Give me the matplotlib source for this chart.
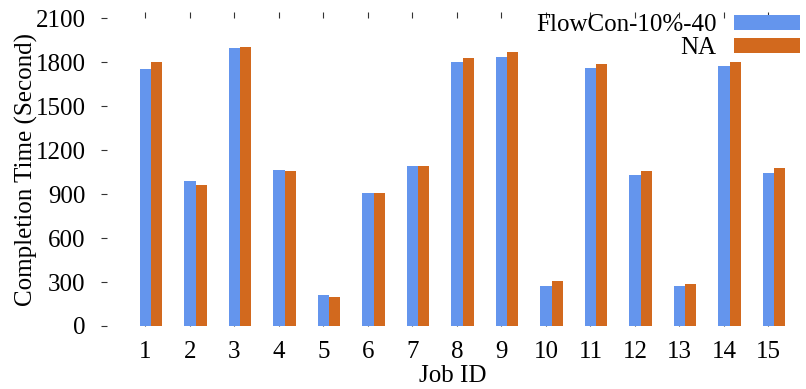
import numpy as np
import matplotlib
matplotlib.use("Agg")
import matplotlib.pyplot as plt

jobs = list(range(1, 16))
flowcon = [1756, 990, 1899, 1065, 210, 910, 1090, 1804, 1838, 274, 1762, 1028, 274, 1774, 1044]
na = [1800, 962, 1906, 1058, 198, 910, 1094, 1831, 1867, 310, 1790, 1060, 285, 1801, 1081]
series_names = ["FlowCon-10%-40", "NA"]
yticks = [0, 300, 600, 900, 1200, 1500, 1800, 2100]

plt.rcParams["font.family"] = ["Liberation Serif", "DejaVu Serif"]
plt.rcParams["font.size"] = 18

fig = plt.figure(figsize=(8.06, 3.89), dpi=100)
ax = fig.add_axes([101 / 806, 1 - 326 / 389, 15.8 * 44.5 / 806, (326 - 12) / 389])

x = np.array(jobs, dtype=float)
w = 0.25
ax.bar(x, flowcon, width=w, color="#6495ED", label=series_names[0], zorder=3)
ax.bar(x + w, na, width=w, color="#D2691E", label=series_names[1], zorder=3)

ax.set_xlim(0, 15.8)
ax.set_ylim(0, 2143)
ax.set_yticks(yticks)
ax.set_xticks(jobs)
ax.set_xticklabels([str(j) for j in jobs])

for s in ax.spines.values():
    s.set_visible(False)

ax.tick_params(axis="y", direction="in", length=4, width=0.8, color="#333333", pad=11)
ax.tick_params(axis="x", direction="in", length=4, width=0.8, color="#333333", pad=11,
               top=True, bottom=True)

ax.set_ylabel("Completion Time (Second)", labelpad=-2)
ax.set_xlabel("Job ID", labelpad=1)

ax.legend(loc="upper right", bbox_to_anchor=(800 / 806, 1 - 14 / 389),
          bbox_transform=fig.transFigure, frameon=False, markerfirst=False,
          handlelength=2.65, handleheight=0.55, labelspacing=0.05,
          handletextpad=0.7, borderaxespad=0, borderpad=0)

fig.savefig("out.png", dpi=100)
